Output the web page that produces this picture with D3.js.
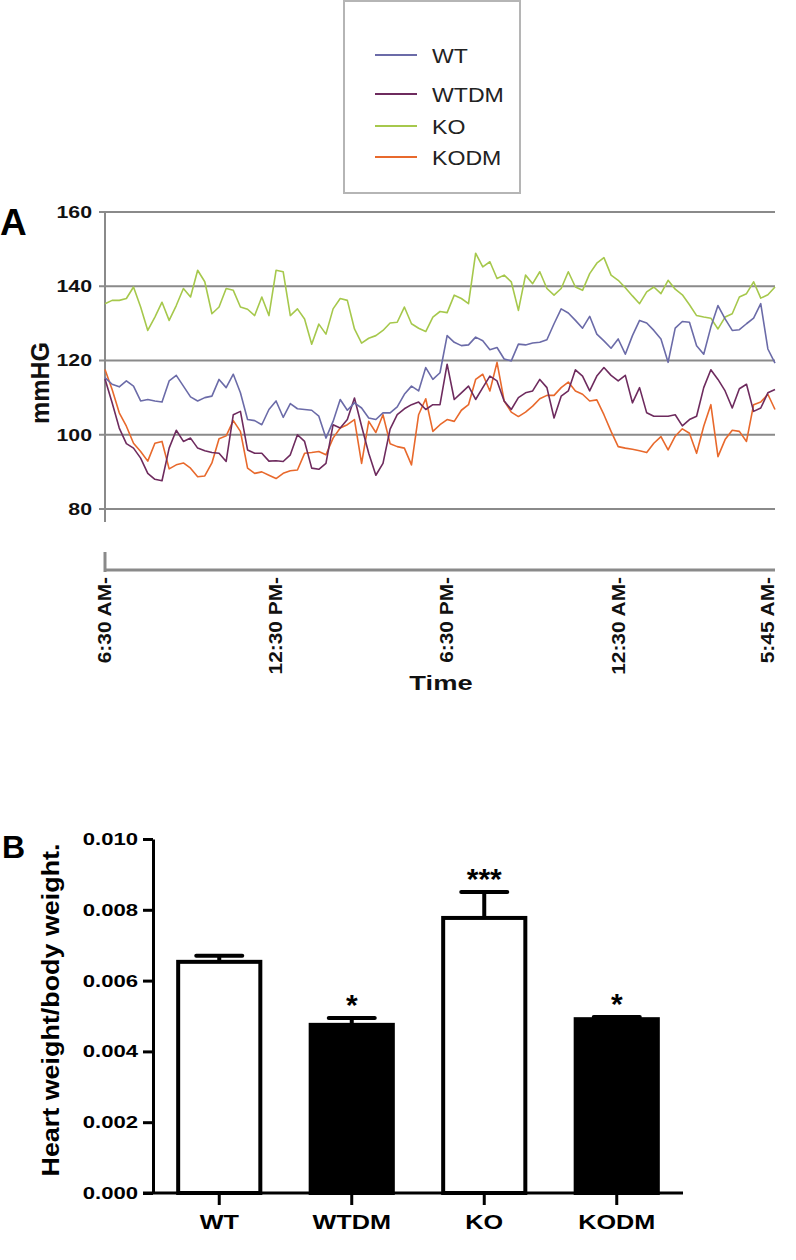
<!DOCTYPE html>
<html><head><meta charset="utf-8">
<script src="https://cdn.jsdelivr.net/npm/d3@7"></script>
<style>body{margin:0;background:#fff} text{font-family:"Liberation Sans",Arial,sans-serif}</style>
</head><body>
<svg id="c" width="796" height="1260"></svg>
<script>
// ---------- Panel A data ----------
const seriesNames = ["WT", "WTDM", "KO", "KODM"];
const seriesColors = ["#6b6ba8", "#6e2b5e", "#a6c84c", "#e8692c"];
const stepHours = 0.25; // readings every 15 min from 6:30 AM
const wt = [115.4,113.6,112.9,114.5,113.1,109.1,109.5,109.1,108.8,114.5,116.0,113.1,110.2,109.1,110.0,110.4,114.9,112.7,116.3,111.3,104.1,103.8,102.7,106.8,
  109.1,104.7,108.4,107.0,106.8,106.6,105.0,99.1,103.6,109.5,106.6,108.6,107.2,104.5,104.1,105.9,105.9,107.5,110.9,113.1,111.8,118.1,114.9,116.7,
  126.7,124.9,124.0,124.2,126.3,125.3,122.9,123.5,120.4,119.9,124.4,124.2,124.7,124.9,125.6,129.9,133.9,132.8,130.8,128.7,131.9,127.1,125.3,
  123.3,125.8,121.7,126.7,130.8,130.1,128.1,125.8,119.5,128.7,130.5,130.3,124.0,121.7,129.0,134.8,131.2,128.1,128.3,129.9,131.4,135.3,123.1,119.3];
const wtdm = [115.0,108.6,101.8,97.6,96.4,93.7,89.6,88.0,87.6,96.4,101.2,98.2,99.1,96.4,95.7,95.2,95.0,92.8,105.4,106.3,95.9,95.0,95.0,92.9,
  93.0,92.8,94.6,100.0,98.2,91.0,90.7,92.3,102.7,101.8,104.1,109.9,102.3,95.0,89.1,92.3,101.5,105.4,107.0,108.1,108.8,106.8,108.1,108.1,
  119.0,109.5,111.3,113.1,109.5,112.7,115.8,114.5,109.1,106.8,110.0,111.3,111.8,114.9,112.7,104.5,110.4,111.8,117.5,115.8,111.8,115.8,118.1,
  116.0,114.5,116.0,108.6,112.7,105.9,105.0,105.0,105.0,105.4,102.4,104.1,105.0,112.7,117.5,114.9,111.8,107.2,112.4,113.6,106.3,107.2,111.3,112.2];
const ko = [135.3,136.2,136.2,136.7,139.8,134.4,128.1,131.7,135.7,130.8,134.8,139.4,137.1,144.3,141.2,132.6,134.4,139.4,138.9,134.4,133.8,132.1,137.1,132.1,
  144.3,143.9,132.1,133.9,131.2,124.4,129.8,127.1,133.9,136.7,136.2,128.5,124.7,126.0,126.7,128.1,130.1,130.3,134.4,129.9,128.7,127.8,131.7,133.2,
  132.9,137.6,136.7,135.3,148.9,145.2,146.6,142.1,143.0,141.2,133.5,143.0,140.7,143.9,139.4,137.6,139.4,143.9,139.8,138.9,143.4,146.2,147.7,
  143.0,141.6,139.6,137.4,135.3,138.5,139.8,138.0,141.6,139.2,137.7,135.0,132.1,131.7,131.4,128.5,131.7,132.6,137.1,138.0,141.2,136.8,137.7,139.8];
const kodm = [117.6,112.2,105.9,102.3,97.7,95.5,92.9,97.7,98.2,90.8,91.9,92.4,91.0,88.7,88.9,92.4,98.9,99.7,103.8,100.9,91.0,89.6,90.0,89.1,
  88.2,89.6,90.3,90.5,95.0,95.2,95.5,94.6,99.1,101.8,102.7,104.1,92.3,103.6,100.6,105.4,97.6,96.8,96.4,91.9,105.4,109.7,100.9,102.7,
  104.1,103.6,106.6,108.1,114.9,116.3,111.8,119.5,109.1,106.1,104.9,106.1,107.7,109.7,110.6,110.6,112.7,114.2,111.8,110.9,109.1,109.4,105.4,
  100.9,96.8,96.4,96.1,95.7,95.2,97.7,99.5,95.9,99.6,101.6,100.4,95.0,102.3,108.1,94.1,98.7,101.2,100.9,98.2,108.1,108.8,110.9,106.8];
const timeTickHours = [0, 6, 12, 18, 23.25];
const timeTickLabels = ["6:30 AM-", "12:30 PM-", "6:30 PM-", "12:30 AM-", "5:45 AM-"];
const pressureTicks = [80, 100, 120, 140, 160];

// ---------- Panel B data ----------
const groups = ["WT", "WTDM", "KO", "KODM"];
const ratioMean = [0.00653, 0.00475, 0.00777, 0.00491];
const ratioSem = [0.00017, 0.00019, 0.00073, 0.00006];
const groupFill = ["#ffffff", "#000000", "#ffffff", "#000000"];
const sigMarks = ["", "*", "***", "*"];
const ratioTicks = [0, 0.002, 0.004, 0.006, 0.008, 0.010];

const svg = d3.select("#c");
function fit(sel, f) {
  sel.each(function () {
    const l = this.getComputedTextLength();
    this.setAttribute("textLength", l * f);
    this.setAttribute("lengthAdjust", "spacingAndGlyphs");
  });
  return sel;
}

// ===== Panel A =====
const x = d3.scaleLinear().domain([0, 23.5]).range([105, 775]);
const y = d3.scaleLinear().domain([80, 160]).range([509, 212]);
const grey = "#8a8a8a";

// legend
const leg = svg.append("g");
leg.append("rect").attr("x", 344).attr("y", 1).attr("width", 176).attr("height", 192)
  .attr("fill", "none").attr("stroke", "#b5b5b5").attr("stroke-width", 2);
const legY = [55, 94, 126, 157];
seriesNames.forEach((n, i) => {
  leg.append("line").attr("x1", 375).attr("x2", 417).attr("y1", legY[i]).attr("y2", legY[i])
    .attr("stroke", seriesColors[i]).attr("stroke-width", 2);
  fit(leg.append("text").attr("x", 432).attr("y", legY[i]).attr("dy", "0.36em")
    .attr("font-size", 21).attr("fill", "#222").text(n), 1.1);
});

// gridlines
svg.append("g").selectAll("line").data(pressureTicks).join("line")
  .attr("x1", 99).attr("x2", 775).attr("y1", d => y(d)).attr("y2", d => y(d))
  .attr("stroke", grey).attr("stroke-width", 2);
svg.append("line").attr("x1", 105).attr("x2", 105).attr("y1", 211).attr("y2", 522)
  .attr("stroke", grey).attr("stroke-width", 2);
svg.append("g").selectAll("text").data(pressureTicks).join("text")
  .attr("x", 92).attr("y", d => y(d)).attr("dy", "0.36em").attr("text-anchor", "end")
  .attr("font-size", 16).attr("font-weight", "bold").attr("fill", "#111").text(d => d)
  .call(s => fit(s, 1.33));

const line = d3.line().x((d, i) => x(i * stepHours)).y(d => y(d));
const series = [wt, wtdm, ko, kodm];
[3, 2, 1, 0].forEach(k => {
  svg.append("path").datum(series[k]).attr("d", line).attr("fill", "none")
    .attr("stroke", seriesColors[k]).attr("stroke-width", 1.6).attr("stroke-linejoin", "round");
});

fit(svg.append("text").attr("transform", "translate(40,383) rotate(-90)").attr("text-anchor", "middle")
  .attr("dy", "0.35em").attr("font-size", 25).attr("font-weight", "bold").attr("fill", "#111").text("mmHG"), 1.0);
svg.append("text").attr("x", 0).attr("y", 235).attr("font-size", 37).attr("font-weight", "bold").text("A");

// time axis
svg.append("line").attr("x1", 105).attr("x2", 775).attr("y1", 570).attr("y2", 570)
  .attr("stroke", grey).attr("stroke-width", 3);
svg.append("line").attr("x1", 105).attr("x2", 105).attr("y1", 552).attr("y2", 572)
  .attr("stroke", grey).attr("stroke-width", 3);
svg.append("g").selectAll("text").data(timeTickHours).join("text")
  .attr("transform", d => `translate(${x(d)},577) rotate(-90)`)
  .attr("text-anchor", "end").attr("dy", "0.35em")
  .attr("font-size", 18).attr("font-weight", "bold").attr("fill", "#111")
  .text((d, i) => timeTickLabels[i]).call(s => fit(s, 1.16));
fit(svg.append("text").attr("x", 441).attr("y", 690).attr("text-anchor", "middle")
  .attr("font-size", 21).attr("font-weight", "bold").attr("fill", "#111").text("Time"), 1.3);

// ===== Panel B =====
const yb = d3.scaleLinear().domain([0, 0.01]).range([1193, 839]);
const xb = d3.scaleBand().domain(groups).range([153, 683]).paddingInner(0.38).paddingOuter(0.19);

const yAxis = svg.append("g").attr("transform", "translate(153,0)")
  .call(d3.axisLeft(yb).tickValues(ratioTicks).tickFormat(d3.format(".3f")).tickSize(10).tickSizeOuter(0).tickPadding(5));
yAxis.select(".domain").attr("stroke", "#000").attr("stroke-width", 3);
yAxis.selectAll(".tick line").attr("stroke", "#000").attr("stroke-width", 3);
yAxis.selectAll(".tick text").attr("font-size", 17).attr("font-weight", "bold").attr("fill", "#000")
  .attr("font-family", '"Liberation Sans",Arial,sans-serif').call(s => fit(s, 1.3));

const bars = svg.append("g");
groups.forEach((g, i) => {
  const cx = xb(g) + xb.bandwidth() / 2;
  const top = yb(ratioMean[i]), et = yb(ratioMean[i] + ratioSem[i]);
  bars.append("line").attr("x1", cx).attr("x2", cx).attr("y1", top).attr("y2", et)
    .attr("stroke", "#000").attr("stroke-width", 4);
  bars.append("line").attr("x1", cx - 23).attr("x2", cx + 23).attr("y1", et).attr("y2", et)
    .attr("stroke", "#000").attr("stroke-width", 4).attr("stroke-linecap", "round");
  bars.append("rect").attr("x", xb(g)).attr("width", xb.bandwidth())
    .attr("y", top).attr("height", yb(0) - top)
    .attr("fill", groupFill[i]).attr("stroke", "#000").attr("stroke-width", 4);
  if (sigMarks[i]) {
    bars.append("text").attr("x", cx).attr("y", et - 3).attr("text-anchor", "middle")
      .attr("font-size", 30).attr("font-weight", "bold").text(sigMarks[i]);
  }
});

const xAxis = svg.append("g").attr("transform", "translate(0,1193)")
  .call(d3.axisBottom(xb).tickSize(12).tickSizeOuter(0).tickPadding(9));
xAxis.select(".domain").remove();
xAxis.selectAll(".tick line").attr("stroke", "#000").attr("stroke-width", 3);
xAxis.selectAll(".tick text").attr("font-size", 21).attr("font-weight", "bold").attr("fill", "#000")
  .attr("font-family", '"Liberation Sans",Arial,sans-serif').call(s => fit(s, 1.2));
svg.append("line").attr("x1", 143).attr("x2", 683).attr("y1", 1193).attr("y2", 1193)
  .attr("stroke", "#000").attr("stroke-width", 3);

fit(svg.append("text").attr("transform", "translate(51,1010) rotate(-90)").attr("text-anchor", "middle")
  .attr("dy", "0.35em").attr("font-size", 24).attr("font-weight", "bold").text("Heart weight/body weight."), 1.12);
svg.append("text").attr("x", 2).attr("y", 858).attr("font-size", 32).attr("font-weight", "bold").text("B");
</script>
</body></html>
